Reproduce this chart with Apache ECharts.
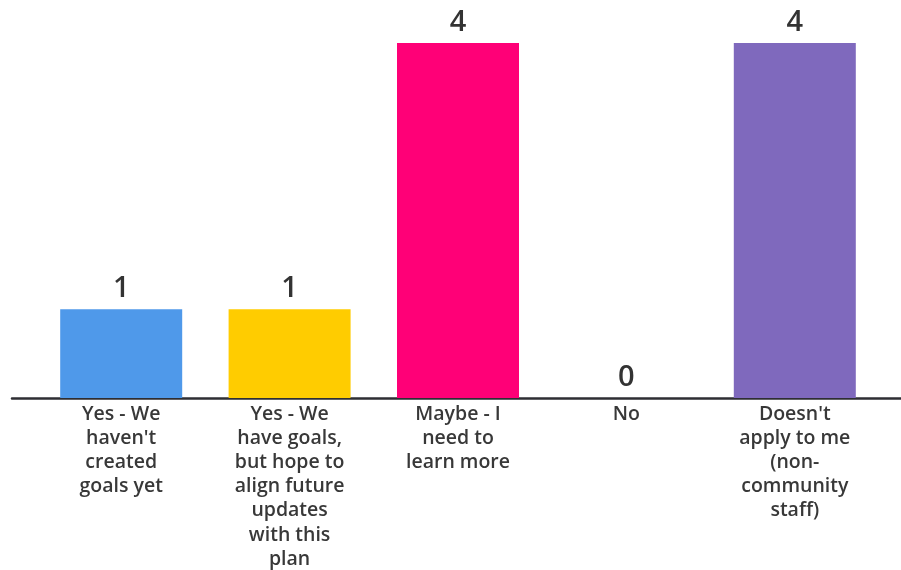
<!DOCTYPE html>
<html>
<head>
<meta charset="utf-8">
<script src="https://cdn.jsdelivr.net/npm/echarts@6/dist/echarts.min.js"></script>
<style>
html,body{margin:0;padding:0;background:#fff;}
#chart{width:901px;height:570px;}
</style>
</head>
<body>
<div id="chart"></div>
<script>
const categories = [
  "Yes - We\nhaven't\ncreated\ngoals yet",
  "Yes - We\nhave goals,\nbut hope to\nalign future\nupdates\nwith this\nplan",
  "Maybe - I\nneed to\nlearn more",
  "No",
  "Doesn't\napply to me\n(non-\ncommunity\nstaff)"
];
const values = [1, 1, 4, 0, 4];
const colors = ["#4f99ea", "#ffcc00", "#ff0077", "#6a8fd8", "#7f69bd"];

const chart = echarts.init(document.getElementById('chart'), null, {renderer: 'canvas'});
chart.setOption({
  backgroundColor: '#ffffff',
  animation: false,
  grid: [
    {left: 37, right: 22, top: 43, bottom: 172, containLabel: false, outerBoundsMode: 'none'},
    {left: 12, right: 0, top: 43, bottom: 172, containLabel: false, outerBoundsMode: 'none'}
  ],
  xAxis: [
    {
      type: 'category', data: categories, gridIndex: 0,
      axisLine: {show: false}, axisTick: {show: false},
      axisLabel: {
        color: '#383838', fontFamily: 'Open Sans', fontSize: 19.5, fontWeight: 600,
        lineHeight: 24.2, margin: 4, interval: 0, align: 'center'
      }
    },
    {
      type: 'value', gridIndex: 1, min: 0, max: 1,
      axisLine: {show: true, lineStyle: {color: '#2e2e33', width: 2.5}},
      axisTick: {show: false}, axisLabel: {show: false}, splitLine: {show: false}
    }
  ],
  yAxis: [
    {type: 'value', gridIndex: 0, min: 0, max: 4, interval: 1, show: false, splitLine: {show: false}},
    {type: 'value', gridIndex: 1, min: 0, max: 1, show: false, splitLine: {show: false}}
  ],
  series: [{
    type: 'bar', xAxisIndex: 0, yAxisIndex: 0,
    data: values.map((v, i) => ({value: v, itemStyle: {color: colors[i]}})),
    barWidth: 122,
    label: {
      show: true, position: 'top', distance: 6,
      color: '#333333', fontFamily: 'Open Sans', fontSize: 29, fontWeight: 600
    }
  }]
});
</script>
</body>
</html>
